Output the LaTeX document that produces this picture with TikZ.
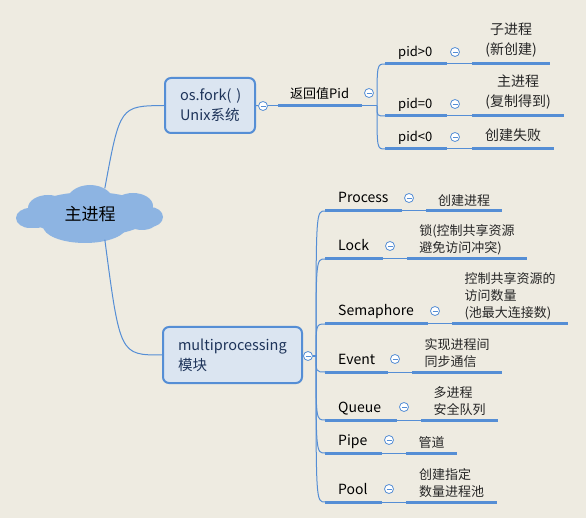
\documentclass[tikz,border=0pt]{standalone}
\usepackage{fontspec}
\setmainfont{Noto Sans CJK SC}
\usetikzlibrary{shapes.geometric}
\definecolor{bg}{RGB}{238,235,225}
\definecolor{lnk}{RGB}{85,142,213}
\definecolor{boxfill}{RGB}{219,229,241}
\definecolor{cloudfill}{RGB}{141,180,226}
\definecolor{boxtext}{RGB}{30,52,90}
\begin{document}
\begin{tikzpicture}[x=1pt, y=-1pt,
  link/.style={draw=lnk, line width=1pt},
  bar/.style={draw=lnk, line width=3pt},
  fold/.style={circle, draw=lnk, fill=white, line width=0.8pt, minimum size=9pt, inner sep=0pt,
    path picture={\draw[lnk, line width=0.8pt] ([xshift=-2.5pt]path picture bounding box.center) -- ([xshift=2.5pt]path picture bounding box.center);}},
  topic/.style={draw=lnk, line width=2pt, fill=boxfill, rounded corners=6pt, text=boxtext,
    align=left, inner xsep=15pt, font=\fontsize{14.5}{20}\selectfont},
  lbl/.style={anchor=base west, inner sep=0pt, font=\fontsize{14}{18}\selectfont},
  plbl/.style={lbl, font=\fontsize{13}{16}\selectfont},
  note/.style={anchor=south, inner sep=0pt, align=left, text=black!85, font=\fontsize{13}{17}\selectfont},
  pnote/.style={note, align=center, font=\fontsize{14}{20}\selectfont}]
\useasboundingbox (0,0) rectangle (586,518);
\fill[bg] (0,0) rectangle (586,518);
\fill[cloudfill] (90,214) ellipse [x radius=62, y radius=22]
  (48,208) ellipse [x radius=20, y radius=13]
  (30,218) ellipse [x radius=14, y radius=10]
  (90,203) ellipse [x radius=24, y radius=18]
  (133,206) ellipse [x radius=20, y radius=13]
  (150,217) ellipse [x radius=13, y radius=10]
  (142,220) ellipse [x radius=16, y radius=10]
  (85,226) ellipse [x radius=42, y radius=17]
  (35,218) ellipse [x radius=18, y radius=10];
\node[ellipse, minimum width=150pt, minimum height=52pt, inner sep=0pt,
  font=\fontsize{17}{20}\selectfont] (root) at (90,214) {主进程};
\node[topic, text width=60pt, minimum height=55pt] (fork) at (210,105.5) {os.fork(~)\\Unix系统};
\node[topic, text width=109pt, minimum height=56pt] (mp) at (232.5,355) {multiprocessing\\模块};
\draw[link] (root.60) .. controls (120,106) .. (fork.west);
\draw[link] (root.-60) .. controls (120,355) .. (mp.west);

\node[fold] (f0) at (263,106) {};
\coordinate (r0) at (278,106);
\coordinate (r1) at (362,106);
\coordinate (bp1) at (377,106);
\node[plbl] (ret) at (290,99) {返回值Pid};
\node[fold] (f1) at (369,93) {};
\draw[link] (fork.east) -- (f0);
\draw[link] (f0) -- (r0);
\draw[bar] (r0) -- (r1);
\draw[link] (r1) -- (bp1);
\foreach \n/\y/\w/\lab/\txt in {1/64/550/pid>0/{子进程\\(新创建)},
    2/116/564/pid=0/{主进程\\(复制得到)}, 3/149/554/pid<0/创建失败} {
  \coordinate (ps\n) at (385,\y);
  \coordinate (pe\n) at (447,\y);
  \coordinate (ns\n) at (472,\y);
  \coordinate (ne\n) at (\w,\y);
  \node[plbl] (pl\n) at (398,\y-7) {\lab};
  \node[fold] (pf\n) at (455,\y-12) {};
  \node[pnote] (pn\n) at ({(472+\w)/2},\y-7) {\txt};
  \draw[link] (bp1) .. controls (377,\y) .. (ps\n);
  \draw[bar] (ps\n) -- (pe\n);
  \draw[link] (pe\n) -- (ns\n);
  \draw[bar] (ns\n) -- (ne\n);
}

\node[fold] (f2) at (308,356) {};
\coordinate (bp2) at (316,356);
\draw[link] (mp.east) -- (f2);
\draw[link] (f2) -- (bp2);
\foreach \n/\y/\e/\w/\lab/\txt in {1/211/402/502/Process/创建进程,
    2/259/383/527/Lock/{锁(控制共享资源\\避免访问冲突)},
    3/324/428/568/Semaphore/{控制共享资源的\\访问数量\\(池最大连接数)},
    4/372/388/502/Event/{实现进程间\\同步通信},
    5/420/397/498/Queue/{多进程\\安全队列},
    6/453/382/457/Pipe/管道,
    7/502/382/497/Pool/{创建指定\\数量进程池}} {
  \coordinate (s\n) at (325,\y);
  \coordinate (e\n) at (\e,\y);
  \coordinate (t\n) at (\e+24,\y);
  \coordinate (u\n) at (\w,\y);
  \node[lbl] (l\n) at (338,\y-8) {\lab};
  \node[fold] (c\n) at (\e+7,\y-13) {};
  \node[note] (n\n) at ({(\e+24+\w)/2},\y-4) {\txt};
  \draw[link] (bp2) .. controls (316,\y) .. (s\n);
  \draw[bar] (s\n) -- (e\n);
  \draw[link] (e\n) -- (t\n);
  \draw[bar] (t\n) -- (u\n);
}
\end{tikzpicture}
\end{document}
